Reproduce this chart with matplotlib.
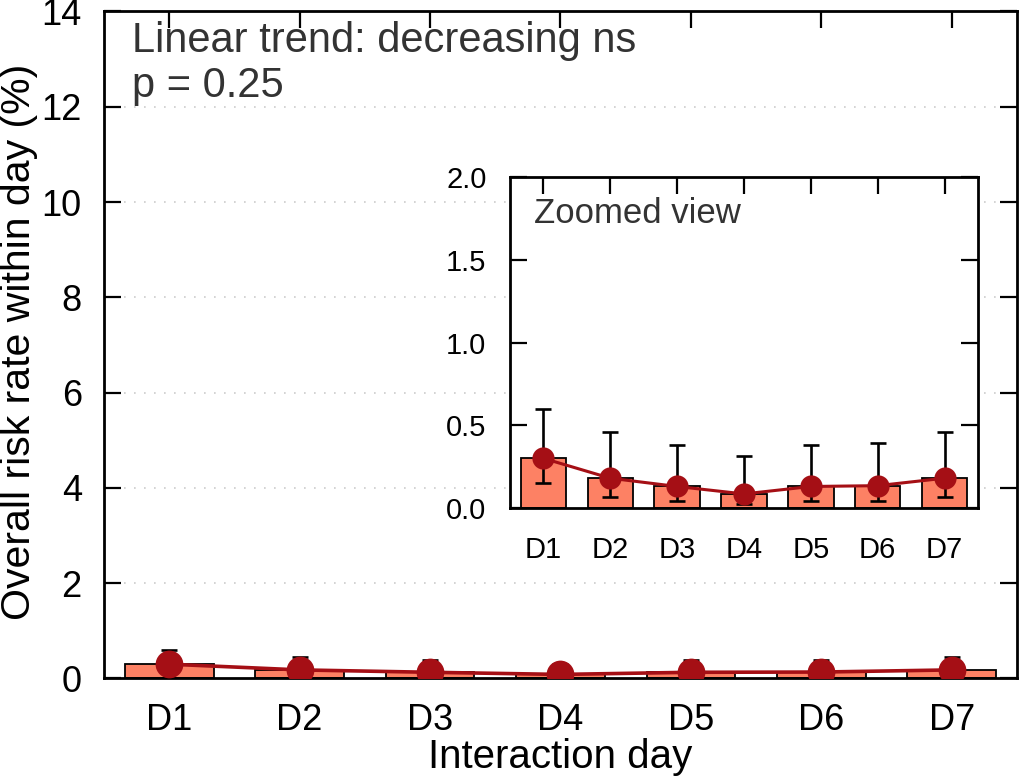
import matplotlib
matplotlib.use("Agg")
import matplotlib.pyplot as plt
import numpy as np

plt.rcParams['font.family'] = ['Liberation Sans', 'DejaVu Sans']

days = ["D1", "D2", "D3", "D4", "D5", "D6", "D7"]
rate = [0.30, 0.18, 0.13, 0.085, 0.13, 0.135, 0.18]
ci_low = [0.153, 0.067, 0.042, 0.026, 0.042, 0.042, 0.067]
ci_high = [0.60, 0.458, 0.383, 0.314, 0.383, 0.395, 0.458]
main_yticks = [0, 2, 4, 6, 8, 10, 12, 14]
inset_yticks = [0.0, 0.5, 1.0, 1.5, 2.0]
inset_yticklabels = ["0.0", "0.5", "1.0", "1.5", "2.0"]

bar_color = "#fd8164"
mark_color = "#a50f15"
text_gray = "#333333"

W, H = 1020, 777
x = np.arange(len(days))
rate_a = np.array(rate)
yerr = np.vstack([rate_a - np.array(ci_low), np.array(ci_high) - rate_a])

fig = plt.figure(figsize=(10.2, 7.77), dpi=100)
ax = fig.add_axes([0.102, 0.1268, 0.895, 0.8584])

def draw(a, msize, lw):
    a.bar(x, rate, width=0.68, color=bar_color, edgecolor="black", linewidth=1.3, zorder=2)
    a.errorbar(x, rate, yerr=yerr, fmt="none", ecolor="black", elinewidth=1.9,
               capsize=6, capthick=1.9, zorder=3)
    a.plot(x, rate, color=mark_color, linewidth=lw, marker="o", markersize=msize,
           markeredgewidth=0, zorder=4)
    a.set_xlim(-0.5, 6.5)
    a.set_xticks(x)
    a.set_xticklabels(days)
    for s in a.spines.values():
        s.set_linewidth(2.0)

draw(ax, 20, 2.6)
ax.set_ylim(0, 14)
ax.set_yticks(main_yticks)
ax.tick_params(axis="both", direction="in", length=12, width=1.6, labelsize=26,
               top=True, right=True)
ax.tick_params(axis="y", pad=16)
ax.tick_params(axis="x", pad=18)
for yv in main_yticks[1:-1]:
    ax.axhline(yv, color="#cccccc", linestyle=(0, (1, 5)), linewidth=1.2, zorder=0)

fig.text(560 / W, 1 - 768 / H, "Interaction day", fontsize=29, ha="center", va="baseline")
fig.text(19 / W, 1 - 341.5 / H, "Overall risk rate within day (%)", fontsize=29.5,
         rotation=90, ha="center", va="center")

fig.text(132 / W, 1 - 52 / H, "Linear trend: decreasing ns", fontsize=30,
         color=text_gray, ha="left", va="baseline")
fig.text(132 / W, 1 - 97 / H, "p = 0.25", fontsize=30,
         color=text_gray, ha="left", va="baseline")

ins = fig.add_axes([0.5, 0.3462, 0.4588, 0.426])
draw(ins, 16, 2.2)
ins.set_ylim(0, 2.0)
ins.set_yticks(inset_yticks)
ins.set_yticklabels(inset_yticklabels)
ins.tick_params(axis="both", direction="in", length=12, width=1.6, labelsize=21,
                top=True, right=True)
ins.tick_params(axis="y", pad=17)
ins.tick_params(axis="x", pad=20)
fig.text(534 / W, 1 - 223 / H, "Zoomed view", fontsize=25,
         color=text_gray, ha="left", va="baseline")

fig.savefig("out.png", dpi=100)
